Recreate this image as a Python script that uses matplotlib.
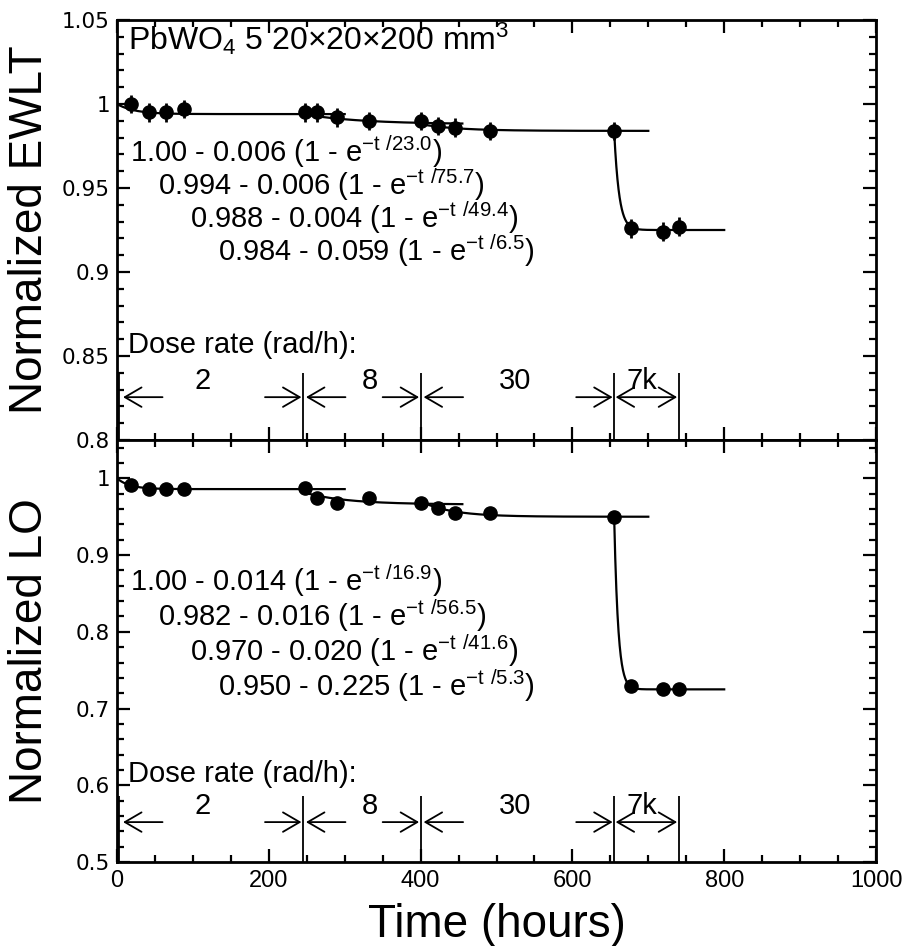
import numpy as np
import matplotlib
matplotlib.use("Agg")
import matplotlib.pyplot as plt
from matplotlib.ticker import MultipleLocator, FuncFormatter

plt.rcParams['font.family'] = ['Liberation Sans', 'DejaVu Sans']
plt.rcParams['mathtext.default'] = 'regular'

# measurement times (hours)
times = [18, 42, 64, 88, 248, 264, 290, 332, 401, 423, 445, 491, 655, 677, 719, 741]
# normalized emission weighted longitudinal transmittance
ewlt = [1.000, 0.995, 0.995, 0.997, 0.995, 0.995, 0.992, 0.990,
        0.990, 0.987, 0.986, 0.984, 0.984, 0.926, 0.924, 0.927]
ewlt_err = 0.0055
# normalized light output
lo = [0.992, 0.986, 0.986, 0.986, 0.987, 0.974, 0.968, 0.974,
      0.968, 0.961, 0.955, 0.955, 0.950, 0.730, 0.725, 0.725]

# fits: (start, end, a, b, tau) -> a - b (1 - exp(-(t-start)/tau))
ewlt_fits = [(0, 300, 1.00, 0.006, 23.0), (245, 455, 0.994, 0.006, 75.7),
             (400, 700, 0.988, 0.004, 49.4), (655, 800, 0.984, 0.059, 6.5)]
lo_fits = [(0, 300, 1.00, 0.014, 16.9), (245, 455, 0.982, 0.016, 56.5),
           (400, 700, 0.970, 0.020, 41.6), (655, 800, 0.950, 0.225, 5.3)]
ewlt_fit_text = ['1.00', '0.994', '0.988', '0.984']
lo_fit_text = ['1.00', '0.982', '0.970', '0.950']
b_text_ewlt = ['0.006', '0.006', '0.004', '0.059']
b_text_lo = ['0.014', '0.016', '0.020', '0.225']
tau_text_ewlt = ['23.0', '75.7', '49.4', '6.5']
tau_text_lo = ['16.9', '56.5', '41.6', '5.3']

# dose-rate periods
dose_edges = [0, 245, 400, 655, 740]
dose_labels = ['2', '8', '30', '7k']
dose_label_t = [113, 333, 524, 692]

fig = plt.figure(figsize=(9.08, 9.46), dpi=100)
W, H = 908, 946
ax1 = fig.add_axes([117 / W, 1 - 440 / H, 759 / W, 420 / H])
ax2 = fig.add_axes([117 / W, 1 - 862 / H, 759 / W, 422 / H])


def style(ax, ymin, ymax, ymaj, ymin_step):
    ax.set_xlim(0, 1000)
    ax.set_ylim(ymin, ymax)
    ax.xaxis.set_major_locator(MultipleLocator(200))
    ax.xaxis.set_minor_locator(MultipleLocator(50))
    ax.yaxis.set_major_locator(MultipleLocator(ymaj))
    ax.yaxis.set_minor_locator(MultipleLocator(ymin_step))
    ax.yaxis.set_major_formatter(FuncFormatter(lambda v, p: '%g' % round(v, 3)))
    ax.tick_params(which='both', direction='in', top=True, right=True, width=1.6)
    ax.tick_params(which='major', length=9.5)
    ax.tick_params(which='minor', length=5)
    ax.tick_params(axis='y', labelsize=15.5, pad=5)
    ax.tick_params(axis='x', labelsize=17, pad=6)
    for sp in ax.spines.values():
        sp.set_linewidth(2)


style(ax1, 0.8, 1.05, 0.05, 0.01)
style(ax2, 0.5, 1.05, 0.1, 0.02)
ax1.set_yticks(np.arange(0.8, 1.0501, 0.05))
ax2.set_yticks(np.arange(0.5, 1.0001, 0.1))
for ax in (ax1, ax2):
    for lab in ax.get_yticklabels():
        lab.set_family('DejaVu Sans')
ax1.tick_params(axis='x', labelbottom=False)


def fit_curve(ax, fits):
    for t0, t1, a, b, tau in fits:
        t = np.linspace(t0, t1, 400)
        ax.plot(t, a - b * (1 - np.exp(-(t - t0) / tau)), color='k', lw=1.6, zorder=2)


fit_curve(ax1, ewlt_fits)
fit_curve(ax2, lo_fits)
ax1.errorbar(times, ewlt, yerr=ewlt_err, fmt='o', color='k', ms=9.5,
             elinewidth=2, capsize=0, zorder=3)
ax2.plot(times, lo, 'o', color='k', ms=9.5, zorder=3)


def fit_labels(ax, a_txt, b_txt, tau_txt, xs, ys):
    for a, b, tau, x, y in zip(a_txt, b_txt, tau_txt, xs, ys):
        s = '%s - %s (1 - e$^{-t\\ /%s}$)' % (a, b, tau)
        ax.text(x, y, s, fontsize=21, va='baseline', ha='left')


fit_labels(ax1, ewlt_fit_text, b_text_ewlt, tau_text_ewlt,
           [17, 54, 96, 133], [0.9655, 0.9458, 0.9262, 0.9065])
fit_labels(ax2, lo_fit_text, b_text_lo, tau_text_lo,
           [17, 54, 96, 133], [0.853, 0.807, 0.762, 0.717])


def dose_marks(ax, y_txt, y_num, y_arr, y_top, ybot):
    ax.text(15, y_txt, 'Dose rate (rad/h):', fontsize=21, va='baseline')
    ax.vlines([2] + dose_edges[1:], ybot, y_top, color='k', lw=1.3)
    for lab, xt in zip(dose_labels, dose_label_t):
        ax.text(xt, y_num, lab, fontsize=21, ha='center', va='baseline')
    ap = dict(arrowstyle='->,head_length=0.6,head_width=0.35', lw=1.3,
              color='k', shrinkA=0, shrinkB=0, mutation_scale=20)
    for a, b in zip(dose_edges[:3], dose_edges[1:4]):
        la = 8 if a == 0 else a + 4
        ax.annotate('', xy=(la, y_arr), xytext=(la + 52, y_arr), arrowprops=ap)
        ax.annotate('', xy=(b - 2, y_arr), xytext=(b - 50, y_arr), arrowprops=ap)
    ap2 = dict(ap, arrowstyle='<->,head_length=0.6,head_width=0.35')
    ax.annotate('', xy=(dose_edges[4] - 2, y_arr), xytext=(dose_edges[3] + 2, y_arr),
                arrowprops=ap2)


dose_marks(ax1, 0.8515, 0.8305, 0.8255, 0.840, 0.8)
dose_marks(ax2, 0.604, 0.563, 0.552, 0.586, 0.5)

ax1.text(14.5, 1.0321, 'PbWO$_4$ 5 20\u00d720\u00d7200 mm$^3$', fontsize=23, va='baseline')

ylab_font = ['Liberation Sans Narrow', 'Liberation Sans']
ax1.set_ylabel('Normalized EWLT', fontsize=33, family=ylab_font, va='center')
ax2.set_ylabel('Normalized LO', fontsize=33, family=ylab_font, va='center')
ax1.yaxis.set_label_coords(-0.114, 0.5)
ax2.yaxis.set_label_coords(-0.114, 0.5)
ax2.set_xlabel('Time (hours)', fontsize=33, labelpad=8)

fig.savefig('out.png', dpi=100)
